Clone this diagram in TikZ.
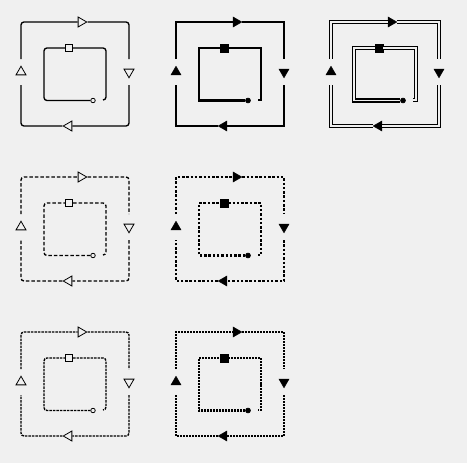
\documentclass[tikz,border=0pt]{standalone}
\usepackage{tikz}
\usetikzlibrary{shapes.geometric}
\definecolor{bg}{HTML}{F0F0F0}

\begin{document}
\begin{tikzpicture}[x=1pt,y=-1pt,
  thin/.style={line width=1.35pt,rounded corners=3pt},
  thick/.style={line width=2.9pt},
  dbl/.style={line width=1.3pt,double=bg,double distance=1.6pt},
  thindash/.style={thin,dash pattern=on 3.5pt off 2pt},
  thickdash/.style={thick,dash pattern=on 2.5pt off 1.8pt},
  thindot/.style={thin,dash pattern=on 2.5pt off 1pt},
  thickdot/.style={thick,dash pattern=on 2pt off 1pt},
  trishape/.style={regular polygon,regular polygon sides=3,inner sep=0pt,minimum size=11.5pt},
  hollowmk/.style={
    tri/.style={trishape,draw,fill=bg,line width=0.8pt},
    box/.style={rectangle,draw,fill=bg,line width=0.8pt,inner sep=0pt,minimum size=7.5pt},
    dot/.style={circle,draw,fill=bg,line width=0.8pt,inner sep=0pt,minimum size=4.5pt}},
  filledmk/.style={
    tri/.style={trishape,draw,fill=black,line width=0.5pt},
    box/.style={rectangle,draw,fill=black,line width=0.5pt,inner sep=0pt,minimum size=8pt},
    dot/.style={circle,draw,fill=black,line width=0.5pt,inner sep=0pt,minimum size=5pt}}]
\fill[bg] (0,0) rectangle (467,463);
\useasboundingbox (0,0) rectangle (467,463);
% one sample per line style
\foreach \px/\py/\wire/\blob/\pid in {21/22/thin/hollowmk/a,176/22/thick/filledmk/b,331/22/dbl/filledmk/c,
    21/177/thindash/hollowmk/d,176/177/thickdash/filledmk/e,
    21/332/thindot/hollowmk/f,176/332/thickdot/filledmk/g}{
  \begin{scope}[shift={(\px,\py)},\blob]
    % outer ring
    \node[tri,rotate=-90] (top\pid) at (60,0) {};
    \node[tri,rotate=180] (rgt\pid) at (108,50) {};
    \node[tri,rotate=90] (bot\pid) at (48,104) {};
    \node[tri] (lft\pid) at (0,50) {};
    \coordinate (la\pid) at (0,37);
    \coordinate (lb\pid) at (0,63);
    \coordinate (ra\pid) at (108,37);
    \coordinate (rb\pid) at (108,63);
    \draw[\wire] (la\pid) |- (top\pid) -| (ra\pid);
    \draw[\wire] (rb\pid) |- (bot\pid) -| (lb\pid);
    % inner ring
    \node[box] (sq\pid) at (48,26) {};
    \node[dot] (ci\pid) at (72,78.5) {};
    \coordinate (ia\pid) at (23,26);
    \coordinate (ib\pid) at (85,52);
    \coordinate (ie\pid) at (82,78);
    \draw[\wire] (ci\pid) -| (ia\pid) -- (sq\pid) -| (ib\pid) |- (ie\pid);
  \end{scope}
}
\end{tikzpicture}
\end{document}
